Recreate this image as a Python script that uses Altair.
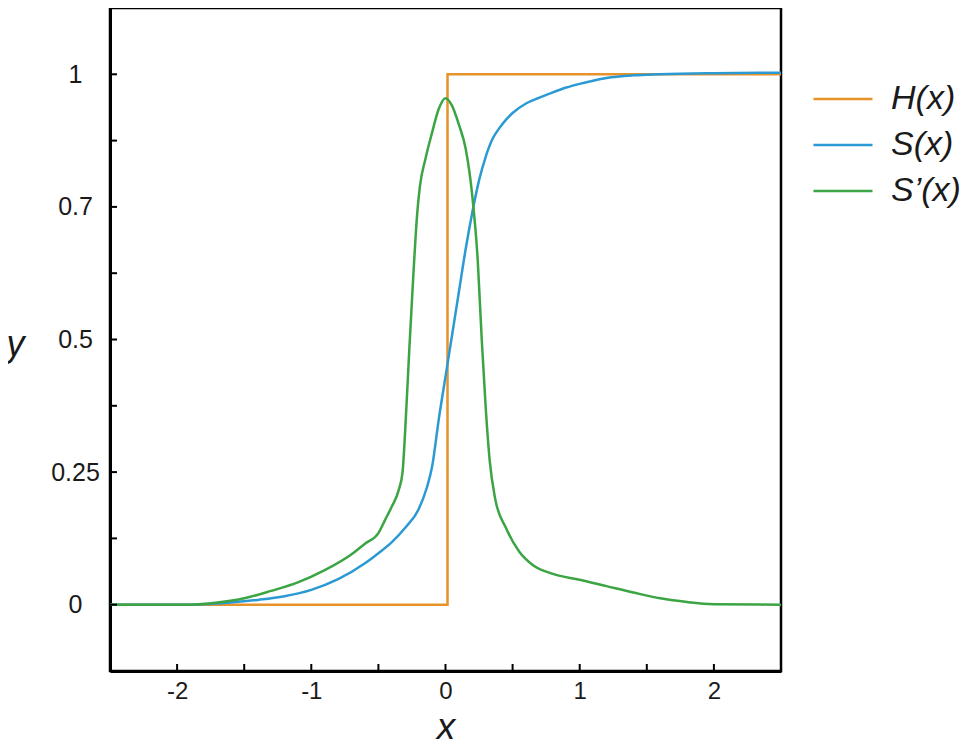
import altair as alt
import pandas as pd

# Heaviside step H(x)
h_x = [-2.5, 0.015, 0.015, 2.5]
h_y = [0, 0, 1, 1]

# S(x)
s_x = [-2.5, -2.0, -1.8, -1.6, -1.4, -1.2, -1.0, -0.8, -0.6, -0.5, -0.4, -0.3, -0.2, -0.14,
       -0.1, -0.05, 0.0, 0.05, 0.1, 0.15, 0.2, 0.25, 0.3, 0.35, 0.4, 0.45, 0.5, 0.6, 0.7, 0.8,
       0.9, 1.0, 1.1, 1.2, 1.4, 1.6, 2.0, 2.5]
s_y = [0, 0, 0.001, 0.004, 0.009, 0.016, 0.028, 0.048, 0.078, 0.097, 0.118, 0.145, 0.18, 0.22,
       0.26, 0.35, 0.43, 0.51, 0.59, 0.67, 0.74, 0.80, 0.845, 0.878, 0.898, 0.914, 0.927, 0.945, 0.956,
       0.966, 0.975, 0.982, 0.988, 0.993, 0.998, 1.0, 1.002, 1.003]

# S'(x)
d_x = [-2.5, -1.9, -1.7, -1.5, -1.3, -1.1, -0.9, -0.7, -0.6, -0.5, -0.45, -0.4, -0.35, -0.32,
       -0.3, -0.27, -0.24, -0.21, -0.19, -0.15, -0.1, -0.05, 0.0, 0.05, 0.1, 0.15, 0.2, 0.24,
       0.27, 0.3, 0.33, 0.37, 0.45, 0.55, 0.65, 0.8, 1.0, 1.2, 1.4, 1.6, 1.8, 2.0, 2.5]
d_y = [0, 0, 0.004, 0.012, 0.026, 0.042, 0.065, 0.095, 0.115, 0.135, 0.16, 0.185, 0.215, 0.25,
       0.33, 0.48, 0.62, 0.74, 0.79, 0.84, 0.89, 0.935, 0.955, 0.94, 0.905, 0.86, 0.77, 0.65,
       0.5, 0.37, 0.27, 0.2, 0.145, 0.1, 0.075, 0.058, 0.047, 0.035, 0.023, 0.012, 0.005, 0.001, 0]

series_names = ["H(x)", "S(x)", "S\u2019(x)"]
series_colors = ["#E8922A", "#2B9AD4", "#3BA443"]

y_tick_values = [0, 0.125, 0.25, 0.375, 0.5, 0.625, 0.75, 0.875, 1]
x_tick_values = [-2, -1.5, -1, -0.5, 0, 0.5, 1, 1.5, 2]
y_label_values = [0, 0.25, 0.5, 0.75, 1]
x_label_values = [-2, -1, 0, 1, 2]

rows = []
for name, xs, ys in zip(series_names, [h_x, s_x, d_x], [h_y, s_y, d_y]):
    for i, (a, b) in enumerate(zip(xs, ys)):
        rows.append({"x": a, "y": b, "series": name, "order": i})
df = pd.DataFrame(rows)

W, H = 671, 663
xscale = alt.Scale(domain=[-2.5, 2.5], nice=False, zero=False)
yscale = alt.Scale(domain=[-0.125, 1.125], nice=False, zero=False)
cscale = alt.Scale(domain=series_names, range=series_colors)

x_axis = alt.Axis(values=x_label_values, ticks=False, tickSize=0, grid=False,
                  labelExpr="'' + datum.value", labelPadding=8, labelFontSize=24,
                  labelColor="#1a1a1a", title="x", titleFontStyle="italic",
                  titleFontSize=37, titleFontWeight="normal",
                  titleBaseline="alphabetic", titleY=67, titleAlign="center",
                  titleColor="#1a1a1a", domainWidth=3, domainColor="black")
y_axis = alt.Axis(values=y_label_values, ticks=False, tickSize=0, grid=False,
                  labelExpr="datum.value == 0.75 ? '0.7' : '' + datum.value",
                  labelAlign="center", labelBaseline="middle", labelPadding=35,
                  labelFontSize=25, labelColor="#1a1a1a", title="y", titleAngle=0,
                  titleFontStyle="italic", titleFontSize=36, titleFontWeight="normal",
                  titleAlign="center", titleBaseline="alphabetic", titleX=-95, titleY=347,
                  titleColor="#1a1a1a", domainWidth=3, domainColor="black")

legend = alt.Legend(orient="none", legendX=702, legendY=73, title=None,
                    symbolType="stroke", symbolSize=3481, symbolStrokeWidth=2.5,
                    labelFontSize=34, labelFontStyle="italic", labelColor="#1a1a1a",
                    clipHeight=36, rowPadding=10, labelOffset=17, padding=0)

layers = []
for k, name in enumerate(series_names):
    interp = "linear" if k == 0 else "monotone"
    layers.append(
        alt.Chart(df).transform_filter(alt.datum.series == name)
        .mark_line(strokeWidth=2.5, clip=True, interpolate=interp)
        .encode(
            x=alt.X("x:Q", scale=xscale, axis=x_axis),
            y=alt.Y("y:Q", scale=yscale, axis=y_axis),
            color=alt.Color("series:N", scale=cscale, legend=legend),
            order=alt.Order("order:Q"),
        )
    )

yticks = alt.Chart(pd.DataFrame({"y": y_tick_values})).mark_rule(
    color="black", strokeWidth=2).encode(
    y=alt.Y("y:Q", scale=yscale, axis=y_axis), x=alt.value(0), x2=alt.value(7))
xticks = alt.Chart(pd.DataFrame({"x": x_tick_values})).mark_rule(
    color="black", strokeWidth=2).encode(
    x=alt.X("x:Q", scale=xscale, axis=x_axis), y=alt.value(H), y2=alt.value(H - 7))

chart = alt.layer(*layers, yticks, xticks).properties(
    width=W, height=H,
    autosize=alt.AutoSizeParams(type="none"),
    padding={"left": 102, "top": 0, "right": 180, "bottom": 75},
).configure(font="Liberation Sans").configure_view(stroke="black", strokeWidth=2.5)

chart.save("out.html", embed_options={"renderer": "svg", "actions": False})
